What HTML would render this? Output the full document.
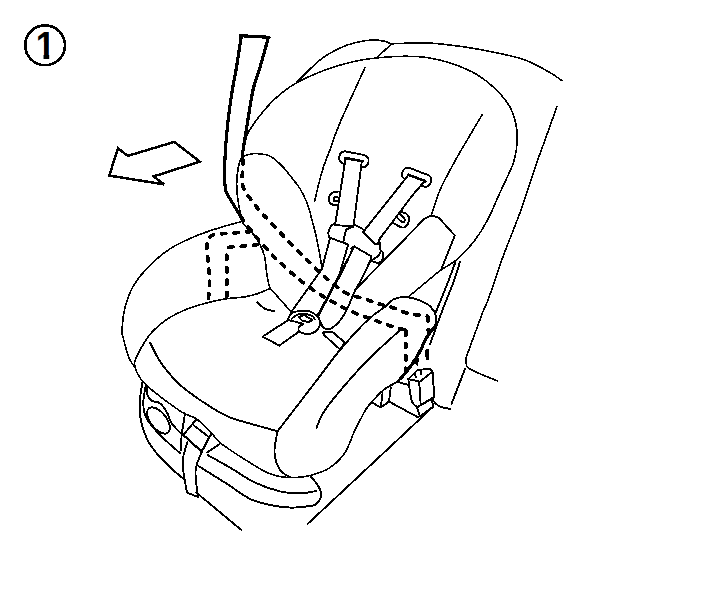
<!DOCTYPE html>
<html><head><meta charset="utf-8"><title>1</title>
<style>html,body{margin:0;padding:0;background:#fff}svg{display:block}text{font-family:"Liberation Sans",sans-serif;font-weight:bold}</style></head>
<body>
<svg width="721" height="591" viewBox="0 0 721 591">
<rect width="721" height="591" fill="#fff"/>
<g shape-rendering="crispEdges" fill="none" stroke="#000" stroke-width="1.9" stroke-linecap="round" stroke-linejoin="round">
<path d="M240.5 216.3C238.7 213.2 231.9 202.1 229.5 198C227.1 193.9 226.8 193.7 226 191.5C225.2 189.3 225.2 187 225 185C224.8 183 224.9 183.8 224.9 179.6C224.9 175.4 224.5 169 224.9 160C225.3 151 226.3 136.8 227.5 125.5C228.7 114.2 230.6 101.2 232 92C233.4 82.8 234.4 79.3 236 70C237.6 60.7 240.4 41.9 241.3 36.3" stroke-width="3.2"/>
<path d="M240.6 35.7L269 37.3" stroke-width="3.2"/>
<path d="M268.4 37.5C266.9 42.9 261.8 61.2 259.2 70C256.6 78.8 255 80.8 253 90C251 99.2 248.6 116 247 125.5C245.4 135 244.3 141.8 243.5 147C242.7 152.2 242.4 155.3 242.2 157" stroke-width="3.2"/>
<path d="M242.9 156C242.6 156.4 241.9 156.3 241.1 158.3C240.3 160.3 238.9 163.7 238.2 167.8C237.5 172 236.8 178.3 236.7 183.2C236.6 188.1 237.2 193.3 237.6 197.4C238 201.5 238.7 204.8 239.3 208C239.9 211.2 240.6 214 241.1 216.3C241.6 218.6 241.4 220.1 242.4 222C243.4 223.9 245.1 225.8 247 228C248.9 230.2 251.8 232.2 254 235C256.2 237.8 258.2 241 260 244.6C261.8 248.2 263.5 251.9 264.6 256.5C265.7 261.1 266 267.8 266.6 272C267.2 276.2 267.7 279.3 268.3 282C268.9 284.7 269.7 287 270 288" stroke-width="1.6"/>
<path d="M270 288L290.6 311.2" stroke-width="1.6"/>
<path d="M118 148.2L127.8 155.9L174.3 141.9L199.9 161.7L153.6 176.4L164.1 184.4L109.3 175.6Z" stroke-width="2.5" stroke-linejoin="miter"/>
<path d="M245.3 141C245.9 139.4 246.4 135.7 248.8 131.5C251.2 127.3 255.2 121.4 259.5 116C263.9 110.6 269 104.3 274.9 98.9C280.8 93.5 286.6 88.6 295 83.8C303.4 79 315 73.8 325 70C335 66.2 346.4 63.3 355 61.3C363.6 59.3 368.4 58.8 376.3 58C384.2 57.2 394.1 56.4 402.6 56.3C411.2 56.2 419.2 56.4 427.6 57.6C436 58.9 444.4 60.9 452.7 63.8C461 66.7 470.3 70.5 477.7 75C485.1 79.5 491.4 84.8 497 90.5C502.6 96.2 507.7 102.4 511 109C514.3 115.6 515.9 123.2 516.8 130C517.7 136.8 517 144.2 516.3 150C515.6 155.8 515.3 157.9 512.6 165C509.9 172.1 504.2 183.4 500 192.6C495.8 201.8 491.8 212.1 487.6 220C483.4 227.9 480 233.5 475 240C470 246.5 463.2 254.1 457.6 259C452 263.9 444 267.8 441.3 269.5" stroke-width="1.6"/>
<path d="M441.3 269.5L408.8 296.5" stroke-width="1.6"/>
<path d="M296.4 82.6C300.3 78.8 312.7 65.8 320 60C327.3 54.2 333.8 51 340 48C346.2 45 351.6 43.5 357 42.2C362.4 40.9 367.8 40.1 372.5 40C377.2 39.9 381.9 40.6 385 41.3C388.1 42 390.2 43.8 391.3 44.3" stroke-width="1.6"/>
<path d="M391.3 44.3L376.3 58" stroke-width="1.6"/>
<path d="M391 43.8C397.1 43.7 415.3 42.5 427.6 43C439.9 43.5 453.8 45.4 465 47C476.2 48.6 485 50.3 495 52.5C505 54.7 515.8 56.6 525 60C534.2 63.4 543.8 69.1 550 72.6C556.2 76.1 560 79.4 562 80.8" stroke-width="1.6"/>
<path d="M365 67.6C360.8 76.8 345.9 109 340 122.7C334.1 136.4 332.6 142.9 329.9 150C327.2 157.1 325.8 160.1 324 165.4C322.2 170.7 320.8 176 319.2 182C317.6 188 315.4 198.2 314.7 201.5" stroke-width="1.6"/>
<path d="M482.2 114.6C478.7 120.5 466.4 141.2 461.3 150C456.2 158.8 454.9 161 451.4 167.7C447.8 174.4 443.4 182 440 190C436.6 198 432.8 211.3 431.3 215.6" stroke-width="1.6"/>
<path d="M557 106.4C554.4 113.7 545.1 139.8 541.4 150C537.7 160.2 538.6 157.3 535 167.7C531.4 178.1 525.4 197.6 520 212.6C514.6 227.6 507.8 243.5 502.6 257.7C497.4 271.9 492.2 288.5 488.9 297.7C485.6 306.9 485.9 303.9 482.6 312.6C479.3 321.3 471.2 343.8 468.9 350" stroke-width="1.6"/>
<path d="M468.9 350C468.4 351.7 465.8 356.8 466 360C466.2 363.2 464.7 365.5 470 369C475.3 372.5 493 379 497.6 381" stroke-width="1.6"/>
<path d="M242.9 157C243.2 156.8 242.7 156.3 244.7 155.7C246.7 155.1 252.1 153.7 254.7 153.4C257.2 153.1 257.9 153.8 260 154.1C262.1 154.4 264.7 154.2 267.1 155C269.5 155.8 271.4 156.8 274.2 158.9C277 161 280.5 164.4 283.7 167.8C286.9 171.2 290.4 176.1 293.2 179.6C296 183.1 298.1 185.5 300.3 189.1C302.5 192.7 304.6 197.2 306.2 201C307.8 204.8 308.9 208.4 309.8 211.6C310.8 214.8 311 216.6 311.9 219.9C312.8 223.2 313.9 226.5 315 231.2C316.1 235.9 317.4 242.2 318.5 248C319.6 253.8 321.2 263 321.7 266" stroke-width="1.6"/>
<path d="M346 151.5L364.2 155C367.1 155.6 369.1 158.5 368.5 161.5L368.3 162.8C367.7 165.7 364.8 167.7 361.8 167.1L343.6 163.6C340.7 163 338.7 160.1 339.3 157.1L339.5 155.8C340.1 152.9 343 150.9 346 151.5Z"/>
<path d="M345.6 158L335.1 225.2L353.5 226.2L362 161.4Z" fill="#fff" stroke="none"/>
<path d="M345.3 158L362.8 161.4" stroke-width="2.6"/>
<path d="M345.6 158L335.1 225.2L353.5 226.2L361.8 161.4"/>
<path d="M338.2 191.5C337.2 191.7 333.9 191.5 332.3 192.7C330.7 193.9 328.9 196.7 328.7 198.6C328.5 200.5 329.5 202.7 331.1 203.9C332.7 205.1 337 205.4 338.2 205.7"/>
<path d="M338.2 197.4L334 197.4L334 201L338.2 201"/>
<path d="M409.9 168.1L427.7 174.9C430.5 176 431.9 179.1 430.8 182L430.4 183.2C429.3 186 426.1 187.4 423.3 186.3L405.5 179.5C402.7 178.4 401.3 175.3 402.4 172.4L402.8 171.2C403.9 168.4 407.1 167 409.9 168.1Z"/>
<path d="M408.6 174.8L364.2 230.7L378 243L425.4 181.2Z" fill="#fff" stroke="none"/>
<path d="M408.6 174.8L425.4 181.2" stroke-width="2.6"/>
<path d="M408.6 174.8L364.2 230.7"/>
<path d="M424.6 181.2L412.7 195L380 238.4L378 243"/>
<path d="M401.7 209.1C401.8 209.6 401.5 211.5 402.3 212.3C403.1 213.1 405.4 212.9 406.6 214C407.8 215.1 409.1 216.9 409.3 218.6C409.5 220.2 408.6 222.4 407.8 223.9C407 225.4 405.6 226.8 404.4 227.3C403.2 227.8 402.4 227.8 400.5 227C398.6 226.2 394.2 223.5 392.9 222.8"/>
<path d="M399 213.3C399.9 214.2 403.5 217.2 404.4 218.6C405.3 220 404.6 221 404.2 221.6C403.8 222.2 403.4 222.8 402.1 222C400.8 221.2 397.3 217.9 396.4 217.1"/>
<path d="M335 222.8C334.3 223.5 331.7 225.2 330.6 226.8C329.5 228.4 328.7 230.5 328.4 232.3C328.1 234.1 328.9 236.6 329 237.4"/>
<path d="M329 237.4L348.5 244.6"/>
<path d="M353.5 226.5C352.5 226.9 348.8 228.2 347.5 229C346.2 229.8 346.4 229.1 345.7 231.2C345 233.2 343.9 239.6 343.5 241.3"/>
<path d="M353.5 224.5L362 228.4L364.2 230.7L363 232.3L375.9 244.6L379.8 243"/>
<path d="M379.8 243C379.9 244.1 379.8 248 380.4 249.7C381 251.4 382.8 251.4 383.2 253C383.6 254.6 383.4 257.4 382.6 259.2C381.9 261 379.4 262.9 378.7 263.6"/>
<path d="M378.7 263.6L370.9 260.8L371.4 256.4L354.1 246.3L351 248.5"/>
<path d="M381 251.5C380.5 252.2 379.3 254.7 378 256C376.7 257.3 373.8 258.9 373 259.5"/>
<path d="M330 238L322 269L290.5 313"/>
<path d="M348 245.2L339 276L318 314.5"/>
<path d="M353.5 247.4L340 276L318 314.5"/>
<path d="M370.3 260.8C369.1 263.3 365.9 270.3 363 276C360.1 281.7 355.9 289.3 353.2 295C350.4 300.7 349 305.7 346.5 310.3C344 314.9 341 319.6 338.2 322.7C335.4 325.8 332.2 328.1 329.9 329C327.6 329.9 325.9 329.5 324.3 328.3C322.7 327.1 321.2 324.3 320.2 322C319.1 319.7 318.4 315.8 318 314.5"/>
<path d="M431 215.5L424.4 218.8L355.5 289.5"/>
<path d="M431 215.5L438.8 217.7"/>
<path d="M438.8 217.7L454.8 235.5L441 269.9"/>
<path d="M455.4 262.1L448.8 280L435.4 313.3"/>
<path d="M459.9 261.7C459 264.8 457.3 271.8 454.3 280C451.3 288.2 446.2 300.3 442.1 311C438.1 321.7 432 338.8 430 344.4"/>
<path d="M288.3 318.6C288.9 317.7 289.7 314.3 291.8 313C293.9 311.7 297.7 311.2 300.8 311C303.9 310.8 307.9 310.8 310.5 311.6C313.1 312.4 315.1 314.1 316.7 315.8C318.3 317.5 320 319.8 320.2 322C320.4 324.2 319.7 327 318.1 329C316.5 331 313.1 333.1 310.5 333.8C307.9 334.5 304.2 333.7 302.2 333.1C300.2 332.5 299.2 331.5 298.7 330.4C298.2 329.2 298.6 327.2 299.4 326.2C300.2 325.1 302.8 324.5 303.5 324.1"/>
<path d="M291.8 318.6C292.6 318 294.7 315.9 296.6 315.1C298.6 314.3 300.9 313.6 303.5 313.7C306.1 313.8 310 314.9 311.9 315.8C313.8 316.7 314.2 318.7 314.6 319.3"/>
<path d="M298.7 317.2L304.2 315.1L312.6 320L308.4 322L302.2 320.7Z"/>
<path d="M303.5 324.1L296.6 322L288.3 320L262.6 336.6L279.3 345.6L298.7 331.8"/>
<path d="M323 332.4L332.7 332.2L345.2 342.9L339.6 349.1L324.3 335.2L323 332.4"/>
<path d="M347.4 260L318.1 315.8" stroke-width="2.6"/>
<path d="M242.7 221.3C238.9 222.3 228.1 225 220.2 227.5C212.3 230 203.4 232.8 195.1 236.3C186.8 239.9 178 243.6 170.1 248.8C162.2 254 153.9 261.1 147.6 267.6C141.3 274.1 136.3 280.9 132.5 287.6C128.7 294.3 126.8 300.6 125 307.7C123.2 314.8 122.2 324.6 122 330C121.8 335.4 122.7 335.4 123.8 340C124.9 344.6 126.9 353 128.8 357.6C130.7 362.2 134 365.9 135 367.6" stroke-width="1.6"/>
<path d="M270 288.5C267.9 289.4 261.7 292.3 257.5 293.7C253.3 295.1 250.4 295.9 245 296.8C239.6 297.7 231.4 297.9 225.2 298.9C219 299.9 214 301 207.7 302.7C201.4 304.4 194.3 306.2 187.6 308.9C180.9 311.6 173.4 315.1 167.6 318.9C161.8 322.6 157 326.6 152.6 331.4C148.2 336.2 144.3 342.5 141.3 347.7C138.3 352.9 135.2 358.2 134.6 362.6C134 367 135.9 370.3 137.6 373.8C139.3 377.3 141.3 380 145 383.8C148.7 387.6 153.7 391.6 160 396.4C166.3 401.2 176.5 408.8 182.6 412.6C188.7 416.4 191.8 415.6 196.6 419C201.4 422.4 207.6 429.2 211.6 433.2C215.6 437.2 214.7 438.5 220.7 443.2C226.7 447.9 239.5 456.2 247.7 461.3C255.9 466.4 262.9 471.1 270 473.8C277.1 476.5 283.3 477.3 290 477.6C296.7 477.9 303.3 477.2 310 475.5C316.7 473.8 324.2 471.4 330 467.6C335.8 463.8 340.8 458.9 345 452.6C349.2 446.3 351.5 437.3 355 430C358.5 422.7 364.2 412.5 366 409" stroke-width="1.6"/>
<path d="M257.2 302.2C258.5 303.3 262.4 307.4 265.2 308.9C268 310.4 272.5 310.6 274 311"/>
<path d="M150 342.5C151.7 345.6 155.8 355.1 160 361.3C164.2 367.6 170.3 374.9 175 380C179.7 385.1 182.5 387.2 188.3 391.6C194.1 396 203.1 402.3 210 406.6C216.9 410.9 222.5 414.3 230 417.4C237.5 420.5 247.3 422.7 255.2 425C263.1 427.3 273.8 430.2 277.5 431.3"/>
<path d="M277.5 431.3C277 434.9 274.1 446.2 274.5 452.6C274.9 459.1 277.4 465.9 280 470C282.6 474.1 288.3 475.8 290 477"/>
<path d="M277.5 431.3C283.8 423.2 304.6 396.2 315 382.6C325.4 369.1 331.2 360.4 340 350C348.8 339.6 360.1 327.2 367.7 320C375.3 312.8 382.5 308.8 385.5 306.6"/>
<path d="M400.2 330C395.2 334.6 379.4 348.4 370.2 357.6C361 366.8 352.5 376.3 345 385C337.5 393.7 329.8 402.9 325 410C320.2 417.1 317.8 424.8 316.4 427.7"/>
<path d="M385.5 306.6C387 305.3 390.7 300.4 394.4 298.9C398.1 297.3 403.3 296.9 407.7 297.3C412.1 297.7 417.2 299.4 421 301C424.8 302.6 428.1 304.2 430.6 306.8C433.1 309.4 435.3 313 436 316.3C436.7 319.6 436.5 322.9 434.9 326.5C433.3 330.1 428.9 333.9 426.6 337.6C424.3 341.3 423.2 344.9 421.2 348.8C419.2 352.7 416.9 357.2 414.4 361C411.9 364.8 409.3 368.3 406.3 371.8C403.3 375.3 400.2 379.2 396.6 382C393.1 384.8 388.8 385.9 385 388.8C381.2 391.7 377.2 396.1 374 399.5C370.8 402.9 367.3 407.4 366 409"/>
<path d="M433.2 406.6L307.6 524"/>
<path d="M196.3 492.6L241.4 530"/>
<path d="M142.5 381.7C142.1 384.8 140.3 393.6 140 400C139.7 406.4 139.7 413.6 140.8 420C141.9 426.4 144 432.7 146.6 438.2C149.2 443.7 152.6 448.2 156.6 453.2C160.6 458.2 166.1 463.5 170.8 468C175.5 472.5 182.6 478 185 480"/>
<path d="M145.8 385C145.4 388.1 143.2 397.8 143.3 403.3C143.4 408.9 143.8 413 146.6 418.3C149.4 423.6 154.4 429.2 160 435C165.6 440.8 176.7 450.2 180 453.2"/>
<path d="M147 386C147.1 387.5 146.7 392.5 147.5 395C148.3 397.5 149.5 399.4 151.6 400.8C153.7 402.2 157.4 401.2 160 403.3C162.6 405.4 165.5 410 167.4 413.3C169.3 416.6 169.2 419.9 171.6 423.3C174 426.8 179.9 432.2 181.6 434"/>
<path d="M168 432.7C167 433.5 165.3 433.8 163.6 433.5C161.9 433.2 159.7 432.2 157.8 430.9C155.9 429.5 153.8 427.5 152.2 425.4C150.6 423.4 149.1 420.8 148.3 418.7C147.4 416.5 147 414.1 147.1 412.4C147.2 410.7 147.9 409.1 149 408.3C150 407.5 151.7 407.2 153.4 407.5C155.1 407.8 157.3 408.8 159.2 410.1C161.1 411.5 163.2 413.5 164.8 415.6C166.4 417.6 167.9 420.2 168.7 422.3C169.6 424.5 170 426.9 169.9 428.6C169.8 430.3 169.1 431.9 168 432.7Z"/>
<path d="M185 413.3L181.6 435L180.8 450"/>
<path d="M196.6 419L183.3 435"/>
<path d="M183.3 435L201.6 451.6L211.6 433.2" stroke-width="2.2"/>
<path d="M193.3 425L208.3 436.6"/>
<path d="M187.6 442C186.8 445.4 182.7 454.2 182.6 462.6C182.5 471 186.3 487.6 187 492.6"/>
<path d="M187 492.6L198 497"/>
<path d="M198 497C197.6 492.5 194.8 478 195.6 470C196.4 462 201.8 452.5 203 449"/>
<path d="M207.4 452.4L220.7 443.2"/>
<path d="M207.6 455C211.3 457.1 222.1 463 230 467.6C237.9 472.2 246.7 478.6 255 482.6C263.3 486.6 272.5 489.6 280 491.4C287.5 493.2 293.9 493.5 300 493.4C306.1 493.3 313.6 491.4 316.3 491"/>
<path d="M198.9 466.3C203.2 469 216.5 477.2 225 482.6C233.5 488 242.5 495.2 250 498.9C257.5 502.6 263.5 503.6 270.2 505C276.9 506.4 283.6 507.4 290.2 507.6C296.8 507.8 305.6 506.6 310 506C314.4 505.4 314.4 505.7 316.3 503.9C318.2 502.1 321.2 498.1 321.4 495C321.6 491.9 319.5 488.2 317.6 485C315.7 481.8 311.3 477.2 310 475.6"/>
<path d="M408.3 379.1L417.5 370L429.5 368.8L432.5 371.6L420 381.6L408.3 379.1"/>
<path d="M408.3 379.1C408.6 381.2 409.3 388.1 410 392C410.7 395.9 411.2 399.8 412.4 402.4C413.6 405 416.6 406.6 417.4 407.4"/>
<path d="M417.4 407.4L420.7 405"/>
<path d="M420.7 405L419.2 381.6"/>
<path d="M432.5 371.6C432.8 375.5 434 390.6 434 395C434 399.4 432.7 397.8 432.4 398.3"/>
<path d="M420.7 405L432.4 398.3" stroke-width="2.2"/>
<path d="M417.4 408.2L420 416.6L433.2 406.6L431.6 398.3"/>
<path d="M431.6 398.3C432.7 399.5 435.1 403.9 438.2 405.7C441.2 407.5 447.9 408.4 449.9 409"/>
<path d="M464.9 369.1L451.5 404"/>
<path d="M389 401.6L418.3 417.4"/>
<path d="M371.7 402.4L380.8 407.4L389 401.6L390.8 387.4"/>
<path d="M382.5 393.3L380.8 407.4"/>
<path d="M397.4 381.6L408.3 385"/>
<path d="M415 374L415.8 377.5"/>
<path d="M420.8 370.8L421.3 374.2"/>
<path d="M435.2 326C433.8 327.9 428.9 333.8 426.6 337.6C424.3 341.4 423.2 344.9 421.2 348.8C419.2 352.7 416.9 357.2 414.4 361C411.9 364.8 408.6 368.9 406.3 371.8C404 374.7 401.5 377.4 400.5 378.5" stroke-width="3.2"/>
<path d="M411 361L419.5 357.5L417.5 365.5Z" fill="#000" stroke="none"/>
<path d="M242.9 160C242.9 161.5 243.1 165.5 242.9 169C242.8 172.5 241.6 177.2 242 181C242.4 184.8 243.5 188.5 245.3 192C247.1 195.5 250.4 198.6 253 202C255.6 205.4 258.2 209.3 260.7 212.2C263.2 215.1 263.8 215.1 267.8 219.3C271.9 223.5 278.8 231.2 285 237.6C291.2 244 298.7 251.5 305 257.7C311.3 263.9 316.9 269.8 322.7 275C328.5 280.2 335.2 285.8 339.6 289C344 292.2 345.1 292.8 349.3 294.5C353.5 296.2 360 297.4 364.9 299C369.8 300.6 374.3 302.5 378.5 303.8C382.7 305.1 385.1 305.1 390 306.7C394.9 308.3 401.4 311.7 407.7 313.3C414 314.9 424.4 315.7 427.7 316.2" stroke-width="3.7" stroke-dasharray="4.3 8.1"/>
<path d="M427.9 317L428.2 331" stroke-width="3.7" stroke-dasharray="4.3 8.1"/>
<path d="M427.2 350.5L427.4 358.5" stroke-width="3.7"/>
<path d="M241 217C241.6 217.9 243 220.3 244.8 222.7C246.6 225.1 249.5 228.4 252 231.6C254.5 234.8 257 238.3 260 241.7C263 245.1 267.5 249.3 270 252C272.5 254.7 270.6 253.4 275 257.7C279.4 261.9 289.8 271.8 296.7 277.5C303.6 283.2 311 288.4 316.2 292C321.4 295.6 324 296.7 327.9 299C331.8 301.3 336 303.9 339.6 305.8C343.2 307.7 345.7 309 349.3 310.6C352.9 312.2 357.1 314 361 315.5C364.9 317 368.6 317.9 372.7 319.4C376.8 320.9 380 322.6 385.5 324.4C391 326.2 402.2 329.1 405.5 330" stroke-width="3.7" stroke-dasharray="4.3 8.1"/>
<path d="M405.9 331L405.9 371" stroke-width="3.7" stroke-dasharray="4.3 8.1"/>
<path d="M250.7 231.6C248 231.8 239.4 232.5 234.7 232.8C230 233.2 226 233.3 222.3 233.7C218.6 234.1 214.9 234.3 212.5 235.3C210.1 236.3 208.9 237.4 208 239.5C207.1 241.6 206.8 244.2 206.8 247.6C206.8 251 207.6 255.9 208 260C208.4 264.1 208.8 268.2 209 272C209.2 275.8 209.6 278.1 209.5 283C209.4 287.9 208.4 298.3 208.2 301.4" stroke-width="3.7" stroke-dasharray="4.3 8.1"/>
<path d="M257.8 244.6C255.7 244.8 249.7 245.6 245.4 246C241.2 246.4 235.2 246.4 232.3 246.8C229.4 247.2 228.9 247.2 228 248.6C227.1 250 227 252.2 226.8 255.3C226.6 258.4 227 260.1 227 267C227 273.9 227 291.5 227 296.4" stroke-width="3.7" stroke-dasharray="4.3 8.1"/>
</g>
<circle cx="45.1" cy="45.3" r="19.9" fill="none" stroke="#000" stroke-width="2.6" shape-rendering="crispEdges"/>
<clipPath id="c1"><path d="M36 30H49.2V60H43.5V42H36Z"/></clipPath>
<g clip-path="url(#c1)"><text transform="translate(35.7,58.7) scale(0.9,1)" font-size="39" fill="#000">1</text></g>
</svg>
</body></html>
